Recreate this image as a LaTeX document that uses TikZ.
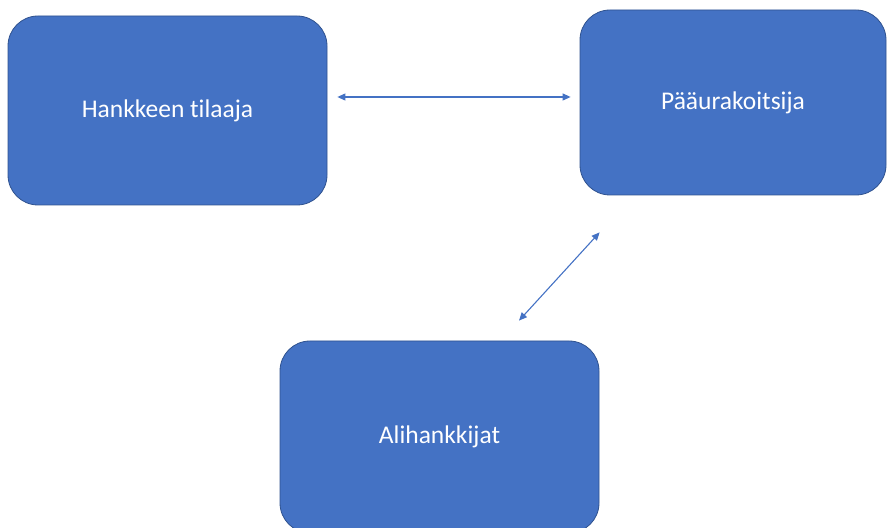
\documentclass[tikz,border=0pt]{standalone}
\usepackage{fontspec}
\setmainfont{Carlito}[Ligatures=NoCommon]
\usetikzlibrary{arrows.meta,positioning}
\definecolor{boxblue}{RGB}{68,114,196}
\definecolor{boxedge}{RGB}{47,82,143}
\definecolor{arrblue}{RGB}{68,114,196}

\begin{document}
\begin{tikzpicture}[
  x=1pt, y=1pt,
  box/.style={rounded corners=30pt, draw=boxedge, line width=0.8pt, fill=boxblue, text=white, align=center, font=\fontsize{25.5}{30}\selectfont},
  arr/.style={{Triangle[length=8pt,width=7pt]}-{Triangle[length=8pt,width=7pt]}, line width=1.1pt, draw=arrblue}
]
\useasboundingbox (0,0) rectangle (888,527);
\node[box, minimum width=319pt, minimum height=189pt] (tilaaja) at (167.5,416.5) {Hankkeen tilaaja};
\node[box, minimum width=306pt, minimum height=185pt] (paa) at (733,424.5) {Pääurakoitsija};
\node[box, minimum width=319pt, minimum height=192pt] (ali) at (439.5,90) {Alihankkijat};
\draw[arr] ([xshift=10pt,yshift=13.5pt]tilaaja.east) -- ([xshift=-9pt,yshift=13.5pt]tilaaja.east -| paa.west);
\draw[arr] ([xshift=20pt,yshift=-37pt]paa.south west) -- ([xshift=79.5pt,yshift=20pt]ali.north);
\end{tikzpicture}
\end{document}
